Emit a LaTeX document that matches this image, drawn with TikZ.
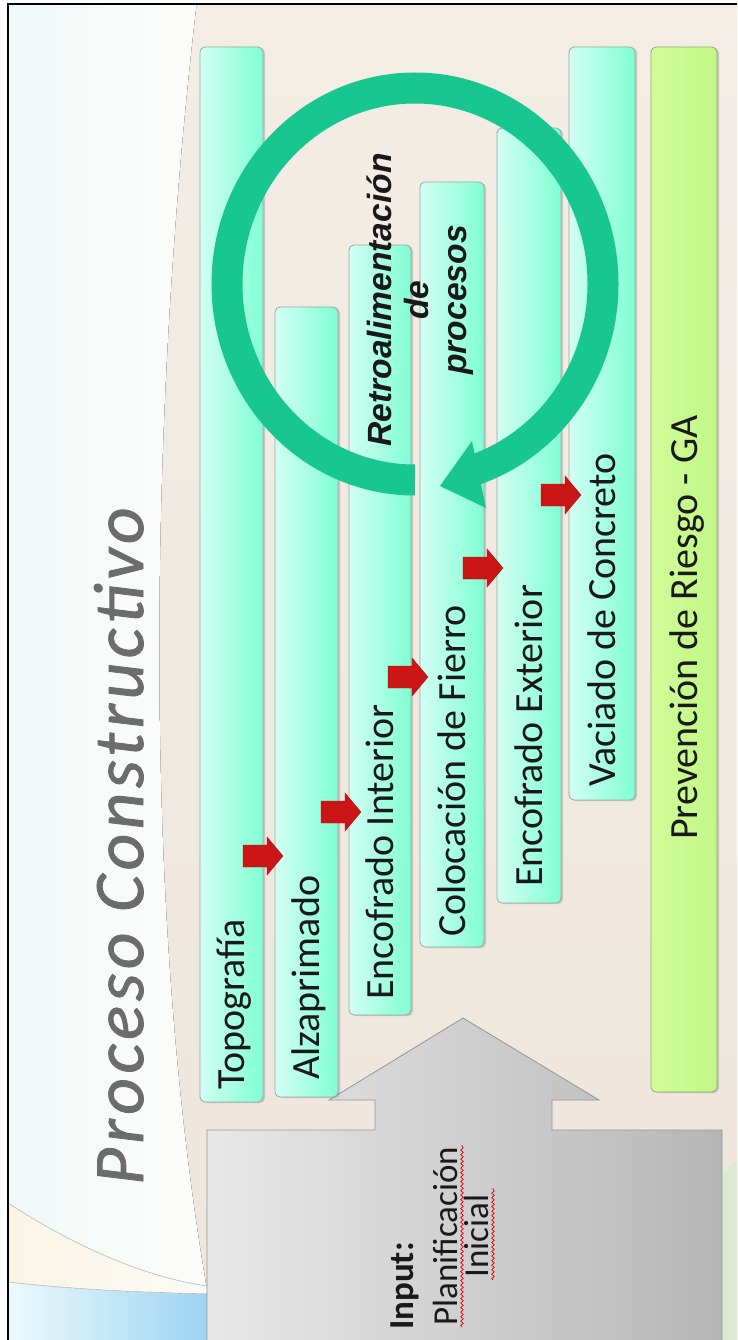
\documentclass[tikz,border=0pt]{standalone}
\usepackage{fontspec}
\setmainfont{Carlito}
\newfontfamily\arialfont{Liberation Sans}
\usetikzlibrary{decorations.pathmorphing,shadows}
\definecolor{ringgreen}{RGB}{24,198,144}
\definecolor{arrred}{RGB}{204,22,22}
\definecolor{mintL}{RGB}{210,255,242}
\definecolor{mintR}{RGB}{128,255,212}
\definecolor{limeL}{RGB}{208,252,152}
\definecolor{limeR}{RGB}{194,247,134}
\definecolor{barborder}{RGB}{150,168,160}
\definecolor{limeborder}{RGB}{150,165,125}
\definecolor{titlegray}{RGB}{108,108,108}
\definecolor{beigeT}{RGB}{243,237,229}
\definecolor{beigeB}{RGB}{238,230,220}
\definecolor{grayL}{RGB}{232,232,232}
\definecolor{grayR}{RGB}{182,182,182}
\definecolor{grayedge}{RGB}{150,150,150}
\definecolor{txt}{RGB}{25,25,25}
\tikzset{
  bar/.style={rounded corners=5pt, draw=barborder, line width=0.8pt,
    left color=mintL, right color=mintR, inner sep=0pt,
    drop shadow={shadow xshift=2pt, shadow yshift=-1pt, opacity=0.35}},
  limebar/.style={bar, draw=limeborder, left color=limeL, right color=limeR},
  lbl/.style={rotate=90, anchor=base west, inner sep=0pt, text=txt,
    font=\fontsize{40}{44}\selectfont},
  squig/.style={draw=red!85!black, line width=0.7pt,
    decorate, decoration={snake, segment length=4.5pt, amplitude=1.3pt}},
}
\newcommand\redarrow[2]{%
  \fill[arrred, draw=arrred!80!black, line width=0.4pt]
    (#1-40,#2-11) -- (#1-16,#2-11) -- (#1-16,#2-19) -- (#1,#2)
    -- (#1-16,#2+19) -- (#1-16,#2+11) -- (#1-40,#2+11) -- cycle;}
\begin{document}
\begin{tikzpicture}[x=1pt,y=-1pt]
\useasboundingbox (0,0) rectangle (737,1340);
\clip (0,0) rectangle (737,1340);
% background
\fill[top color=beigeT, bottom color=beigeB] (0,0) rectangle (737,1340);
\fill[left color={rgb,255:red,240;green,248;blue,249}, right color={rgb,255:red,253;green,253;blue,250}]
  (0,0) -- (197,0) .. controls (150,400) and (140,900) .. (207,1290) -- (0,1290) -- cycle;
\fill[left color={rgb,255:red,251;green,245;blue,230}, right color={rgb,255:red,250;green,250;blue,246}]
  (8,1203) .. controls (80,1250) and (150,1278) .. (207,1286)
  -- (207,1294) .. controls (120,1292) and (60,1288) .. (8,1282) -- cycle;
\fill[left color={rgb,255:red,236;green,250;blue,253}, right color={rgb,255:red,158;green,212;blue,240}]
  (8,1282) .. controls (60,1288) and (120,1292) .. (207,1294) -- (207,1340) -- (8,1340) -- cycle;
\draw[color={rgb,255:red,205;green,205;blue,200}, line width=0.8pt]
  (8,1203) .. controls (80,1250) and (150,1278) .. (207,1286);
\draw[color={rgb,255:red,205;green,205;blue,200}, line width=0.8pt]
  (8,1282) .. controls (60,1288) and (120,1292) .. (207,1294);
\fill[color={rgb,255:red,222;green,233;blue,212}] (722,1175) -- (737,1160) -- (737,1340) -- (722,1340) -- cycle;
% white margins and frame
\fill[white] (0,0) rectangle (7,1340);
\fill[white] (0,0) rectangle (737,3);
\draw[black, line width=2pt] (8.3,1340) -- (8.3,4.3) -- (737,4.3);

% input arrow
\path[left color=grayL, right color=grayR, draw=grayedge, line width=0.8pt]
  (207,1345) -- (207,1130) -- (375,1130) -- (375,1100) -- (329,1100) -- (463,1018)
  -- (599,1100) -- (552,1100) -- (552,1130) -- (722,1130) -- (722,1345) -- cycle;

% bars
\node[bar, minimum width=63, minimum height=1055] (b1) at (231.5,574.5) {};
\node[bar, minimum width=63, minimum height=790] (b2) at (306.5,702) {};
\node[bar, minimum width=62, minimum height=770] (b3) at (380,630) {};
\node[bar, minimum width=64, minimum height=765] (b4) at (452,564.5) {};
\node[bar, minimum width=64, minimum height=775] (b5) at (529,515.5) {};
\node[bar, minimum width=66, minimum height=753] (b6) at (602,423.5) {};
\node[limebar, minimum width=66, minimum height=1045] (bg) at (684,569.5) {};

\node[lbl] (t1) at (244.5,1090) {Topografía};
\node[lbl] (t2) at (319.5,1080) {Alzaprimado};
\node[lbl] (t3) at (393,1000) {Encofrado Interior};
\node[lbl] (t4) at (465,937) {Colocación de Fierro};
\node[lbl] (t5) at (542,887) {Encofrado Exterior};
\node[lbl] (t6) at (615,787) {Vaciado de Concreto};
\node[lbl] (tg) at (697,840) {Prevención de Riesgo - GA};

% red step arrows
\redarrow{283}{856}
\redarrow{361}{812}
\redarrow{428}{677}
\redarrow{503}{568}
\redarrow{581}{495}

% feedback ring
\draw[ringgreen, line width=31pt] (415,480) arc[start angle=90, end angle=432, x radius=188, y radius=196];
\fill[ringgreen] (472,441) -- (440,486) -- (486,508) -- cycle;

\node[rotate=90, align=center, inner sep=0pt, text=txt,
  font=\arialfont\bfseries\itshape\fontsize{33.6}{37.5}\selectfont] (retro) at (420,300)
  {Retroalimentación\\de\\procesos};

% title
\node[rotate=90, anchor=base west, inner sep=0pt, text=titlegray,
  font=\fontsize{71}{80}\selectfont\itshape\addfontfeatures{LetterSpace=6.5,FakeBold=1.2}] (title) at (143,1185)
  {Proceso Constructivo};

% input text
\node[rotate=90, anchor=base west, inner sep=0pt, text=txt,
  font=\fontsize{35}{38}\selectfont\bfseries] (inp) at (413,1330) {Input:};
\node[rotate=90, align=center, inner sep=0pt, text=txt,
  font=\fontsize{35}{31}\selectfont] (plan) at (461,1236) {Planificación\\Inicial};
\draw[squig] (462,1327) -- (462,1145);
\draw[squig] (493,1280) -- (493,1188);
\end{tikzpicture}
\end{document}
